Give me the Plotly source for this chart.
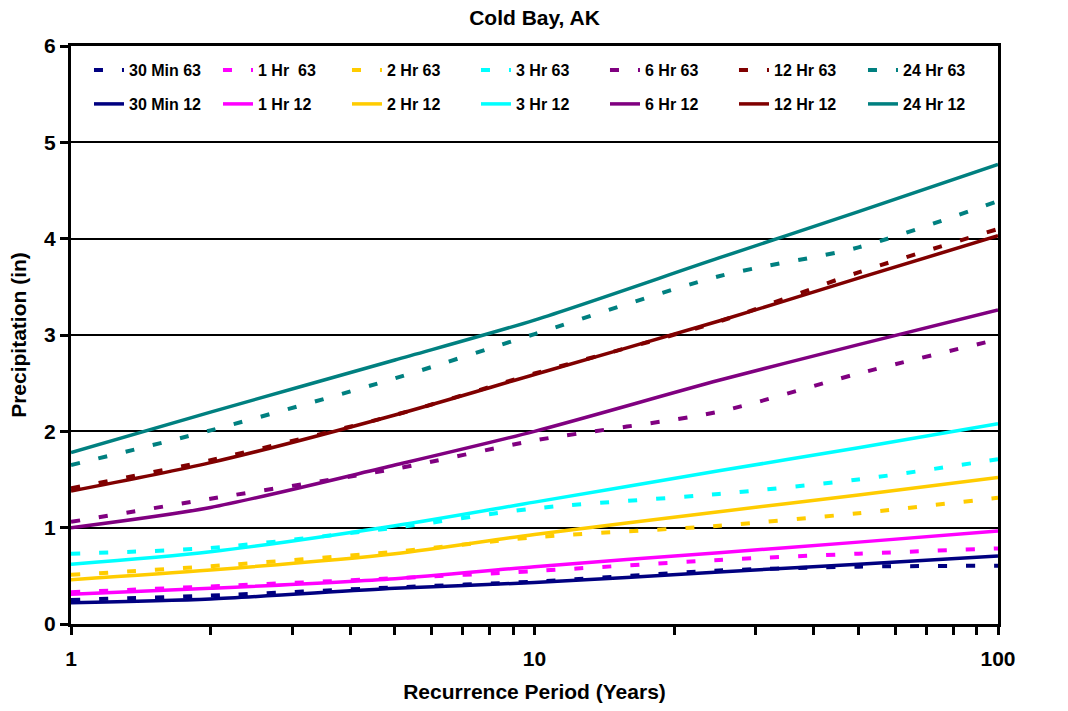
import plotly.graph_objects as go

# Recurrence periods (years)
periods = [1, 2, 5, 10, 25, 50, 100]

# 1963 (TP-40) precipitation depths, inches
min30_63 = [0.25, 0.295, 0.38, 0.44, 0.555, 0.595, 0.605]
hr1_63 = [0.33, 0.39, 0.475, 0.55, 0.665, 0.73, 0.785]
hr2_63 = [0.51, 0.60, 0.75, 0.90, 1.02, 1.15, 1.31]
hr3_63 = [0.73, 0.79, 1.00, 1.20, 1.35, 1.50, 1.71]
hr6_63 = [1.06, 1.30, 1.61, 1.905, 2.205, 2.60, 2.955]
hr12_63 = [1.41, 1.70, 2.17, 2.60, 3.14, 3.65, 4.10]
hr24_63 = [1.65, 2.01, 2.55, 3.01, 3.61, 3.91, 4.39]

# 2012 precipitation depths, inches
min30_12 = [0.22, 0.26, 0.37, 0.43, 0.54, 0.62, 0.706]
hr1_12 = [0.31, 0.37, 0.47, 0.595, 0.74, 0.85, 0.965]
hr2_12 = [0.46, 0.56, 0.73, 0.93, 1.165, 1.34, 1.52]
hr3_12 = [0.62, 0.75, 1.02, 1.265, 1.59, 1.83, 2.08]
hr6_12 = [1.00, 1.21, 1.65, 2.00, 2.53, 2.90, 3.26]
hr12_12 = [1.38, 1.675, 2.17, 2.59, 3.145, 3.59, 4.03]
hr24_12 = [1.78, 2.20, 2.74, 3.155, 3.80, 4.28, 4.77]

names_63 = ["30 Min 63", "1 Hr  63", "2 Hr 63", "3 Hr 63", "6 Hr 63", "12 Hr 63", "24 Hr 63"]
names_12 = ["30 Min 12", "1 Hr 12", "2 Hr 12", "3 Hr 12", "6 Hr 12", "12 Hr 12", "24 Hr 12"]
series_63 = [min30_63, hr1_63, hr2_63, hr3_63, hr6_63, hr12_63, hr24_63]
series_12 = [min30_12, hr1_12, hr2_12, hr3_12, hr6_12, hr12_12, hr24_12]
colors = ["#000080", "#FF00FF", "#FFCC00", "#00FFFF", "#800080", "#800000", "#008080"]

FONT = "Liberation Sans, Arial, sans-serif"
TXT = dict(family=FONT, size=21, color="black", weight="bold")

fig = go.Figure()

for name, vals, col in zip(names_63, series_63, colors):
    fig.add_trace(go.Scatter(
        x=periods, y=vals, name=name, mode="lines",
        line=dict(color=col, width=4, dash="9px,19px", shape="spline", smoothing=0.8),
        legend="legend",
    ))

for name, vals, col in zip(names_12, series_12, colors):
    fig.add_trace(go.Scatter(
        x=periods, y=vals, name=name, mode="lines",
        line=dict(color=col, width=3.5, shape="spline", smoothing=0.8),
        legend="legend2",
    ))

# x ticks: every integer on the log scale, labelled only at decades
xtick_vals = list(range(1, 10)) + list(range(10, 101, 10))
xtick_text = [str(v) if v in (1, 10, 100) else "" for v in xtick_vals]

legend_common = dict(
    orientation="h",
    xanchor="left",
    yanchor="middle",
    x=0.0194,
    entrywidth=84,
    entrywidthmode="pixels",
    bgcolor="rgba(0,0,0,0)",
    font=dict(family=FONT, size=16, color="black", weight="bold"),
    itemclick=False,
)

fig.update_layout(
    width=1068, height=711,
    margin=dict(l=71, r=70, t=46, b=87),
    paper_bgcolor="white",
    plot_bgcolor="white",
    font=dict(family=FONT, color="black", weight="bold"),
    title=dict(text="Cold Bay, AK", x=0.5, xanchor="center", xref="paper",
               y=1 - 18 / 711, yanchor="middle", font=TXT),
    legend=dict(y=(624 - 70) / 578, **legend_common),
    legend2=dict(y=(624 - 104) / 578, **legend_common),
    xaxis=dict(
        type="log", range=[0, 2],
        tickvals=xtick_vals, ticktext=xtick_text,
        ticks="outside", ticklen=8, tickwidth=2.5, tickcolor="black",
        ticklabelstandoff=6,
        showgrid=False, zeroline=False,
        showline=True, linewidth=3, linecolor="black", mirror=True,
        tickfont=TXT,
        title=dict(text="Recurrence Period (Years)", standoff=16, font=TXT),
        automargin=False,
    ),
    yaxis=dict(
        range=[0, 6], dtick=1,
        ticks="outside", ticklen=8, tickwidth=2.5, tickcolor="black",
        showgrid=True, gridcolor="black", gridwidth=1.6,
        zeroline=False,
        showline=True, linewidth=3, linecolor="black", mirror=True,
        tickfont=TXT,
        title=dict(text="Precipitation (in)", standoff=12, font=TXT),
        automargin=False,
    ),
    yaxis2=dict(
        overlaying="y", side="right",
        range=[0, 6 * 2.54], dtick=2,
        ticks="outside", ticklen=8, tickwidth=2.5, tickcolor="black",
        ticklabelstandoff=6,
        showgrid=False, zeroline=False,
        showline=True, linewidth=3, linecolor="black",
        tickfont=TXT,
        title=dict(text="Precipitation (cm)", standoff=5, font=TXT),
        automargin=False,
    ),
    showlegend=True,
)

fig.write_html("out.html")
